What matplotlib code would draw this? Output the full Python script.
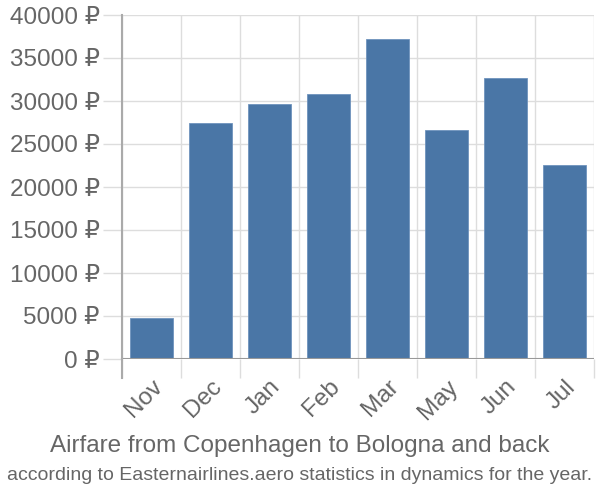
import matplotlib
matplotlib.use('Agg')
import matplotlib.pyplot as plt

months = ['Nov', 'Dec', 'Jan', 'Feb', 'Mar', 'May', 'Jun', 'Jul']
prices = [4750, 27450, 29650, 30800, 37200, 26600, 32700, 22550]
yticks = [0, 5000, 10000, 15000, 20000, 25000, 30000, 35000, 40000]

plt.rcParams['font.family'] = ['Liberation Sans', 'DejaVu Sans']
text_color = '#666666'

fig = plt.figure(figsize=(6, 5), dpi=100)
ax = fig.add_axes([122 / 600, 1 - 359 / 500, 472 / 600, 344 / 500])

x = list(range(len(months)))
ax.bar(x, prices, width=0.72, color='#4a76a6', edgecolor='#6f93bd', linewidth=0.6, zorder=3)

ax.set_xlim(-0.5, len(months) - 0.5)
ax.set_ylim(0, 40000)

ax.set_yticks(yticks)
ax.set_yticklabels([f'{v} ₽' for v in yticks])
ax.grid(axis='y', color='#dddddd', linewidth=1, zorder=0)
ax.axhline(0, color='#999999', linewidth=1.5, zorder=4)

# vertical separators between categories
ax.set_xticks([i - 0.5 for i in range(len(months) + 1)], minor=True)
ax.grid(axis='x', which='minor', color='#dddddd', linewidth=1, zorder=0)
ax.set_xticks(x)
ax.set_xticklabels(months, rotation=45, ha='right', rotation_mode='anchor')

ax.tick_params(axis='x', which='major', length=0, pad=12, labelsize=17.5, labelcolor=text_color)
ax.tick_params(axis='x', which='minor', length=14, width=1, color='#dddddd')
ax.tick_params(axis='y', length=14, width=1, color='#dddddd', pad=2, labelsize=17.5, labelcolor=text_color)

for s in ['top', 'right', 'bottom']:
    ax.spines[s].set_visible(False)
ax.spines['left'].set_color('#aaaaaa')
ax.spines['left'].set_linewidth(1.5)
ax.spines['left'].set_bounds(0, 40000)
ax.plot([-0.5, -0.5], [0, -0.055], transform=ax.get_xaxis_transform(), color='#aaaaaa',
        linewidth=1.5, clip_on=False, zorder=5)

fig.text(0.5, 1 - 446 / 500, 'Airfare from Copenhagen to Bologna and back', ha='center', va='center',
         fontsize=17.5, color=text_color)
fig.text(0.5, 1 - 475 / 500, 'according to Easternairlines.aero statistics in dynamics for the year.',
         ha='center', va='center', fontsize=14, color=text_color)

fig.savefig('out.png', dpi=100)
